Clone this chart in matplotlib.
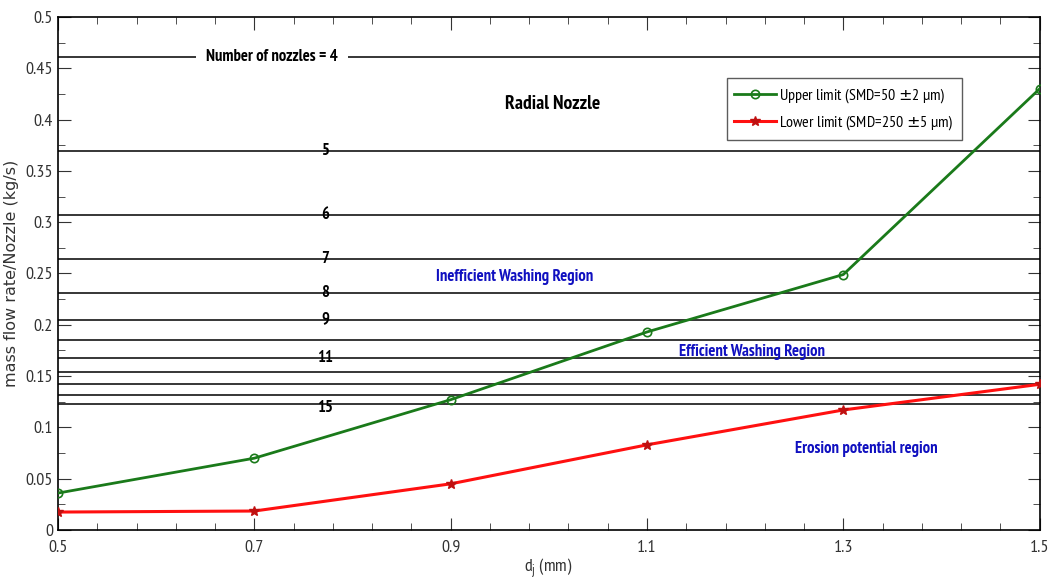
import numpy as np
import matplotlib.pyplot as plt
from matplotlib.ticker import FixedLocator, MultipleLocator, FormatStrFormatter

plt.rcParams['font.family'] = ['PT Sans Narrow', 'DejaVu Sans']

# data
dj = [0.5, 0.7, 0.9, 1.1, 1.3, 1.5]
upper = [0.036, 0.070, 0.127, 0.193, 0.249, 0.430]
lower = [0.0175, 0.0185, 0.045, 0.083, 0.117, 0.142]

nozzles = [4, 5, 6, 7, 8, 9, 10, 11, 12, 13, 14, 15]
nozzle_flow = [0.461, 0.369, 0.307, 0.264, 0.231, 0.205, 0.185, 0.168, 0.154, 0.142, 0.132, 0.123]
labelled = ['5', '6', '7', '8', '9', '11', '15']

fig = plt.figure(figsize=(10.51, 5.85), dpi=100)
ax = fig.add_axes([0.0552, 0.094, 0.934, 0.877])

# horizontal lines for each nozzle count
for n, q in zip(nozzles, nozzle_flow):
    ax.axhline(q, color='black', lw=1.1, zorder=1)
    if str(n) in labelled:
        dy = -0.004 if n == 15 else 0
        ax.text(0.772, q + dy, str(n), ha='center', va='center', fontsize=12,
                fontweight='bold', zorder=2)

ax.text(0.718, nozzle_flow[0], 'Number of nozzles = 4', ha='center', va='center',
        fontsize=12, fontweight='bold', zorder=2,
        bbox=dict(facecolor='white', edgecolor='none', pad=7))

ax.plot(dj, upper, color='#1a7a1a', lw=2, marker='o', ms=6, mfc='none',
        mew=1.2, label='Upper limit (SMD=50 $\\pm$2 µm)', zorder=3)
ax.plot(dj, lower, color='#ff1010', lw=2.2, marker='*', ms=7,
        mfc='#c01010', mec='#c01010', label='Lower limit (SMD=250 $\\pm$5 µm)', zorder=3)

ax.text(1.004, 0.415, 'Radial Nozzle', ha='center', va='center', fontsize=14,
        fontweight='bold')
ax.text(0.965, 0.247, 'Inefficient Washing Region', ha='center', va='center',
        fontsize=12, fontweight='bold', color='#1010c0')
ax.text(1.207, 0.173, 'Efficient Washing Region', ha='center', va='center',
        fontsize=12, fontweight='bold', color='#1010c0')
ax.text(1.323, 0.079, 'Erosion potential region', ha='center', va='center',
        fontsize=12, fontweight='bold', color='#1010c0')

ax.set_xlim(0.5, 1.5)
ax.set_ylim(0, 0.5)
ax.xaxis.set_major_locator(FixedLocator(dj))
ax.xaxis.set_minor_locator(FixedLocator(np.arange(0.5, 1.501, 0.04)))
ax.yaxis.set_major_locator(MultipleLocator(0.05))
ax.yaxis.set_minor_locator(MultipleLocator(0.025))
ax.xaxis.set_major_formatter(FormatStrFormatter('%g'))
ax.yaxis.set_major_formatter(FormatStrFormatter('%g'))
ax.tick_params(which='both', direction='in', top=True, right=True, labelsize=13,
               colors='#333333')
ax.tick_params(axis='x', pad=7)
ax.tick_params(which='major', length=9)
ax.tick_params(which='minor', length=5)
for s in ax.spines.values():
    s.set_linewidth(1.2)

ax.set_xlabel('d$_\\mathregular{j}$ (mm)', fontsize=13, color='#333333', labelpad=1)
ax.set_ylabel('mass flow rate/Nozzle (kg/s)', fontsize=11.5, family='DejaVu Sans',
              color='#333333', labelpad=5)

leg = ax.legend(loc='upper left', bbox_to_anchor=(0.681, 0.881), fontsize=11.5,
                frameon=True, fancybox=False, edgecolor='#333333', borderaxespad=0,
                handlelength=2.6, borderpad=0.5, labelspacing=0.5, handletextpad=0.2)
leg.get_frame().set_linewidth(1)

fig.savefig('out.png', dpi=100)
